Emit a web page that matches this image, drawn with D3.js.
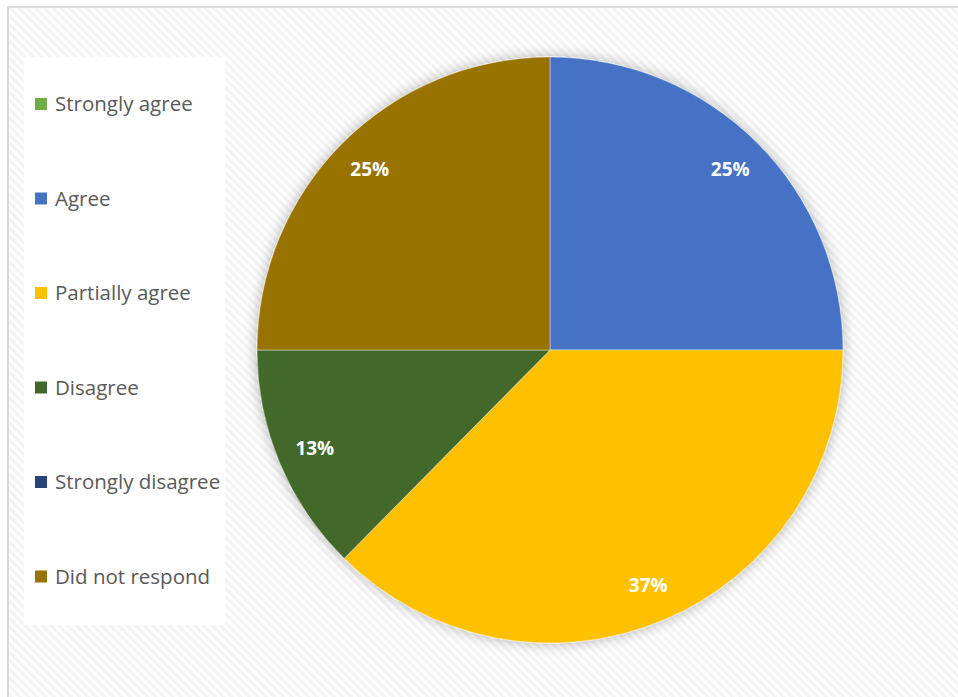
<!DOCTYPE html>
<html>
<head>
<meta charset="utf-8">
<script src="https://cdn.jsdelivr.net/npm/d3@7"></script>
<style>
  body { margin: 0; background: #ffffff; }
  svg { display: block; }
</style>
</head>
<body>
<div id="chart"></div>
<script>
// Survey responses, share of respondents per answer.
var categories = ["Strongly agree", "Agree", "Partially agree", "Disagree", "Strongly disagree", "Did not respond"];
var shares = [0, 0.25, 0.374, 0.126, 0, 0.25];
var colors = ["#70ad47", "#4472c4", "#ffc000", "#43682b", "#264478", "#997300"];

var width = 958,
    height = 697,
    cx = 550,
    cy = 350,
    radius = 293;

var svg = d3.select("#chart").append("svg")
    .attr("width", width)
    .attr("height", height);

var defs = svg.append("defs");

// Light diagonal hatch used by the chart area background.
var pattern = defs.append("pattern")
    .attr("id", "hatch")
    .attr("patternUnits", "userSpaceOnUse")
    .attr("width", 6)
    .attr("height", 6)
    .attr("patternTransform", "rotate(-45)");
pattern.append("rect")
    .attr("width", 6)
    .attr("height", 6)
    .attr("fill", "#ffffff");
pattern.append("rect")
    .attr("width", 3)
    .attr("height", 6)
    .attr("fill", "#f3f3f3");

var shadow = defs.append("filter")
    .attr("id", "shadow")
    .attr("x", "-20%").attr("y", "-20%")
    .attr("width", "140%").attr("height", "140%");
shadow.append("feGaussianBlur")
    .attr("in", "SourceAlpha")
    .attr("stdDeviation", 7);
shadow.append("feComponentTransfer")
  .append("feFuncA")
    .attr("type", "linear")
    .attr("slope", 0.3);
var merge = shadow.append("feMerge");
merge.append("feMergeNode");
merge.append("feMergeNode").attr("in", "SourceGraphic");

// Chart area with frame.
svg.append("rect")
    .attr("x", 8)
    .attr("y", 7)
    .attr("width", width)
    .attr("height", height)
    .attr("fill", "url(#hatch)")
    .attr("stroke", "#d9d9d9")
    .attr("stroke-width", 2);

// Legend box.
var legendTop = 57,
    legendStep = 94.5;

svg.append("rect")
    .attr("x", 24)
    .attr("y", legendTop)
    .attr("width", 201)
    .attr("height", 568)
    .attr("fill", "#ffffff")
    .attr("fill-opacity", 0.9);

var legend = svg.append("g")
  .selectAll("g")
  .data(categories)
  .join("g")
    .attr("transform", function(d, i) {
      return "translate(35," + (legendTop + 47 + i * legendStep) + ")";
    });

legend.append("rect")
    .attr("x", 0)
    .attr("y", -6)
    .attr("width", 12)
    .attr("height", 12)
    .attr("fill", function(d, i) { return colors[i]; });

legend.append("text")
    .attr("x", 20)
    .attr("dy", "0.35em")
    .attr("font-family", "'Open Sans', 'Noto Sans', sans-serif")
    .attr("font-size", 20.5)
    .attr("fill", "#595959")
    .text(function(d) { return d; });

// Pie, clockwise from 12 o'clock in data order.
var pie = d3.pie()
    .sort(null)
    .value(function(d) { return d; });

var arc = d3.arc()
    .innerRadius(0)
    .outerRadius(radius);

var labelArc = d3.arc()
    .innerRadius(radius * 0.87)
    .outerRadius(radius * 0.87);

var arcs = pie(shares);

var g = svg.append("g")
    .attr("transform", "translate(" + cx + "," + cy + ")");

g.append("g")
    .attr("filter", "url(#shadow)")
  .selectAll("path")
  .data(arcs)
  .join("path")
    .attr("d", arc)
    .attr("fill", function(d, i) { return colors[i]; })
    .attr("stroke", "#ffffff")
    .attr("stroke-opacity", 0.4)
    .attr("stroke-width", function(d) { return d.value > 0 ? 1 : 0; });

var fmt = d3.format(".0%");

g.append("g")
  .selectAll("text")
  .data(arcs.filter(function(d) { return d.value > 0; }))
  .join("text")
    .attr("transform", function(d) { return "translate(" + labelArc.centroid(d) + ")"; })
    .attr("text-anchor", "middle")
    .attr("dy", "0.35em")
    .attr("font-family", "'Open Sans', 'Noto Sans', sans-serif")
    .attr("font-size", 19)
    .attr("font-weight", "bold")
    .attr("fill", "#ffffff")
    .text(function(d) { return fmt(d.value); });
</script>
</body>
</html>
